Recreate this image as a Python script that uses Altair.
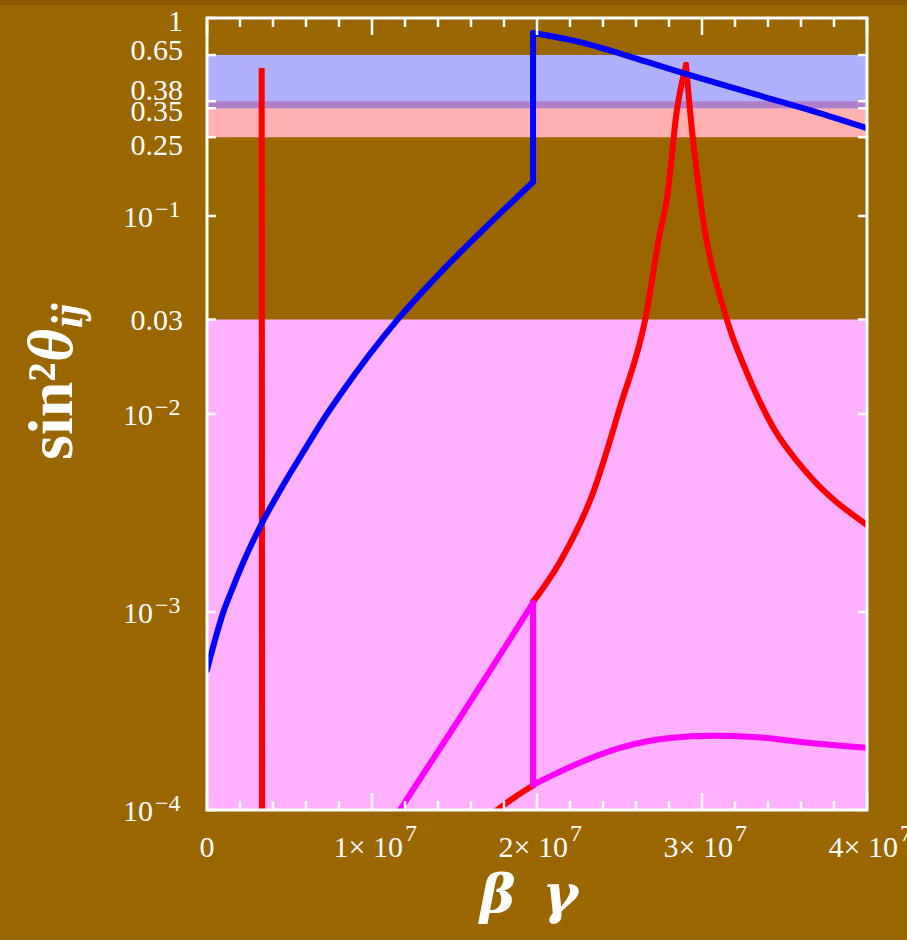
import altair as alt
import pandas as pd

# ---------------- data (beta*gamma in units of 1e7, sin^2 theta_ij) ----------------
# blue branch: rise up to the level crossing, then the upper branch
blue_rise_bg = [0.0, 0.0485, 0.097, 0.158, 0.218, 0.333, 0.455, 0.594, 0.703, 0.806, 1.152,
                1.412, 1.673, 1.976]
blue_rise_s2 = [5.09e-4, 7.22e-4, 9.89e-4, 1.337e-3, 1.767e-3, 2.81e-3, 4.28e-3, 6.65e-3,
                9.32e-3, 0.01247, 0.0298, 0.0515, 0.0850, 0.1485]
blue_fall_bg = [1.976, 2.261, 2.667, 2.988, 3.273, 3.673, 4.0]
blue_fall_s2 = [0.840, 0.756, 0.600, 0.497, 0.423, 0.339, 0.278]

# narrow red resonance near 3.3e6
spike_bg = [0.3335, 0.3315, 0.3345]
spike_s2 = [5e-5, 0.559, 5e-5]

# red branch: low piece, then rise to the resonance peak and fall
red_low_bg = [1.715, 1.758, 1.867, 1.976]
red_low_s2 = [9.4e-5, 1.0e-4, 1.164e-4, 1.33e-4]
red_rise_bg = [1.976, 2.139, 2.339, 2.503, 2.655, 2.745, 2.788, 2.848, 2.903]
red_rise_s2 = [1.125e-3, 1.79e-3, 3.99e-3, 0.01084, 0.0298, 0.0821, 0.1233, 0.343, 0.579]
red_fall_bg = [2.903, 2.927, 2.988, 3.152, 3.273, 3.430, 3.636, 4.0]
red_fall_s2 = [0.579, 0.343, 0.1233, 0.0298, 0.0161, 8.60e-3, 5.04e-3, 2.75e-3]

# magenta branch: rise to the crossing, then the flat hump
mag_rise_bg = [1.139, 1.170, 1.552, 1.976]
mag_rise_s2 = [9.1e-5, 1.0e-4, 3.09e-4, 1.11e-3]
mag_hump_bg = [1.976, 2.2, 2.503, 2.806, 3.067, 3.309, 3.612, 4.0]
mag_hump_s2 = [1.34e-4, 1.65e-4, 2.06e-4, 2.31e-4, 2.37e-4, 2.34e-4, 2.20e-4, 2.06e-4]

# allowed ranges drawn as horizontal bands
band_names = ["theta13", "theta12", "theta23", "overlap"]
band_lo = [1e-4, 0.25, 0.35, 0.35]
band_hi = [0.03, 0.38, 0.65, 0.38]
band_colors = ["#ffb0ff", "#ffb0b0", "#b0b0ff", "#b17fc9"]

# axis ticks and labels
x_major = [0, 1, 2, 3, 4]
x_base = ["0", "1× 10", "2× 10", "3× 10", "4× 10"]
x_exp = ["", "7", "7", "7", "7"]
x_minor = [i * 0.2 for i in range(1, 20) if i % 5]
y_ticks = [1, 0.65, 0.38, 0.35, 0.25, 0.1, 0.03, 0.01, 0.001, 0.0001]
y_base = ["1", "0.65", "0.38", "0.35", "0.25", "10", "0.03", "10", "10", "10"]
y_exp = ["", "", "", "", "", "−1", "", "−2", "−3", "−4"]

# ---------------- styling ----------------
W, H = 660, 792
BG = "#996600"
FONT = "Liberation Serif"
LW = 6
LABEL_SIZE = 30
EXP_SIZE = 24
y_nudge = {1: 3.5, 0.65: -4, 0.38: -10, 0.35: 4, 0.25: 9}
Y_NUDGE_DEFAULT = 1.5

x_scale = alt.Scale(domain=[0, 4], nice=False, zero=False)
y_scale = alt.Scale(type="log", domain=[1e-4, 1], nice=False)


def X(field):
    return alt.X(field, type="quantitative", scale=x_scale, axis=None)


def Y(field):
    return alt.Y(field, type="quantitative", scale=y_scale, axis=None)


bands = pd.DataFrame({"name": band_names, "lo": band_lo, "hi": band_hi})
band_layer = alt.Chart(bands).mark_rect().encode(
    x=alt.value(0), x2=alt.value(W),
    y=Y("lo"), y2="hi",
    color=alt.Color("name:N", scale=alt.Scale(domain=band_names, range=band_colors), legend=None),
)


def branch(pieces, color, interp="monotone"):
    """Smooth pieces joined by straight vertical jumps at the level crossing."""
    rows = []
    seg = 0
    prev_end = None
    for bg, s2 in pieces:
        if prev_end is not None:
            for k, pt in enumerate([prev_end, (bg[0], s2[0])]):
                rows.append({"seg": seg, "i": k, "bg": pt[0], "s2": pt[1]})
            seg += 1
        for k, (a, b) in enumerate(zip(bg, s2)):
            rows.append({"seg": seg, "i": k, "bg": a, "s2": b})
        seg += 1
        prev_end = (bg[-1], s2[-1])
    return alt.Chart(pd.DataFrame(rows)).mark_line(
        color=color, strokeWidth=LW, strokeCap="round", clip=True, interpolate=interp
    ).encode(x=X("bg"), y=Y("s2"), detail="seg:N", order="i:Q")


red_spike = branch([(spike_bg, spike_s2)], "#ff0000", interp="linear")
red_line = branch([(red_low_bg, red_low_s2), (red_rise_bg, red_rise_s2),
                   (red_fall_bg, red_fall_s2)], "#ff0000")
mag_line = branch([(mag_rise_bg, mag_rise_s2), (mag_hump_bg, mag_hump_s2)], "#ff00ff")
blue_line = branch([(blue_rise_bg, blue_rise_s2), (blue_fall_bg, blue_fall_s2)], "#0000ff")

# inward ticks on all four sides
tick_style = dict(color="white", strokeWidth=2.5)


def xticks(values, length):
    df = pd.DataFrame({"v": values})
    bottom = alt.Chart(df).mark_rule(**tick_style).encode(
        x=X("v"), y=alt.value(H), y2=alt.value(H - length))
    top = alt.Chart(df).mark_rule(**tick_style).encode(
        x=X("v"), y=alt.value(0), y2=alt.value(length))
    return [bottom, top]


yt = pd.DataFrame({"v": y_ticks})
left_ticks = alt.Chart(yt).mark_rule(**tick_style).encode(
    y=Y("v"), x=alt.value(0), x2=alt.value(9))
right_ticks = alt.Chart(yt).mark_rule(**tick_style).encode(
    y=Y("v"), x=alt.value(W - 9), x2=alt.value(W))

# tick labels
label_style = dict(font=FONT, color="white")
labels = []
for v, b, e in zip(x_major, x_base, x_exp):
    d = pd.DataFrame({"v": [v], "b": [b], "e": [e]})
    if e:
        labels.append(alt.Chart(d).mark_text(
            align="right", baseline="top", dx=31, fontSize=LABEL_SIZE, **label_style
        ).encode(x=X("v"), y=alt.value(H + 23), text="b:N"))
        labels.append(alt.Chart(d).mark_text(
            align="left", baseline="top", dx=33, fontSize=EXP_SIZE, **label_style
        ).encode(x=X("v"), y=alt.value(H + 12), text="e:N"))
    else:
        labels.append(alt.Chart(d).mark_text(
            align="center", baseline="top", fontSize=LABEL_SIZE, **label_style
        ).encode(x=X("v"), y=alt.value(H + 23), text="b:N"))

for v, b, e in zip(y_ticks, y_base, y_exp):
    d = pd.DataFrame({"v": [v], "b": [b], "e": [e]})
    nudge = y_nudge.get(v, Y_NUDGE_DEFAULT)
    labels.append(alt.Chart(d).mark_text(
        align="right", baseline="middle", dy=nudge, fontSize=LABEL_SIZE, **label_style
    ).encode(y=Y("v"), x=alt.value(-54 if e else -24), text="b:N"))
    if e:
        labels.append(alt.Chart(d).mark_text(
            align="left", baseline="middle", dy=nudge - 8, fontSize=EXP_SIZE, **label_style
        ).encode(y=Y("v"), x=alt.value(-52), text="e:N"))

# axis titles
one = alt.Data(values=[{"k": 0}])
title_style = dict(color="white", angle=270, align="left", baseline="alphabetic")
y_title = [
    alt.Chart(one).mark_text(text="sin²", font=FONT, fontSize=64, fontWeight="bold",
                             **title_style).encode(x=alt.value(-135), y=alt.value(442)),
    alt.Chart(one).mark_text(text="θ", font=FONT, fontSize=64, fontWeight="bold",
                             fontStyle="italic", **title_style
                             ).encode(x=alt.value(-135), y=alt.value(344)),
    alt.Chart(one).mark_text(text="ij", font=FONT, fontSize=44, fontWeight="bold",
                             fontStyle="italic", **title_style
                             ).encode(x=alt.value(-125), y=alt.value(310)),
]
x_title = alt.Chart(one).mark_text(
    text="β\u2002γ", font="DejaVu Serif", fontSize=54, fontWeight="bold", fontStyle="italic",
    color="white", align="center", baseline="alphabetic",
).encode(x=alt.value(322), y=alt.value(895))

frame = alt.Chart(one).mark_rect(filled=False, stroke="white", strokeWidth=3).encode(
    x=alt.value(0), x2=alt.value(W), y=alt.value(0), y2=alt.value(H))
top_strip = alt.Chart(one).mark_rect(color="#8a5a00").encode(
    x=alt.value(-207), x2=alt.value(W + 40), y=alt.value(-18), y2=alt.value(-13))

chart = alt.layer(
    band_layer, red_spike, red_line, mag_line, blue_line,
    *xticks(x_major, 17), *xticks(x_minor, 9), left_ticks, right_ticks, frame,
    *labels, *y_title, x_title, top_strip,
).properties(
    width=W, height=H,
    autosize=alt.AutoSizeParams(type="none"),
    padding={"left": 207, "top": 18, "right": 40, "bottom": 130},
    background=BG,
).configure_view(stroke=None)

chart.save("out.html", embed_options={"renderer": "svg", "actions": False})
